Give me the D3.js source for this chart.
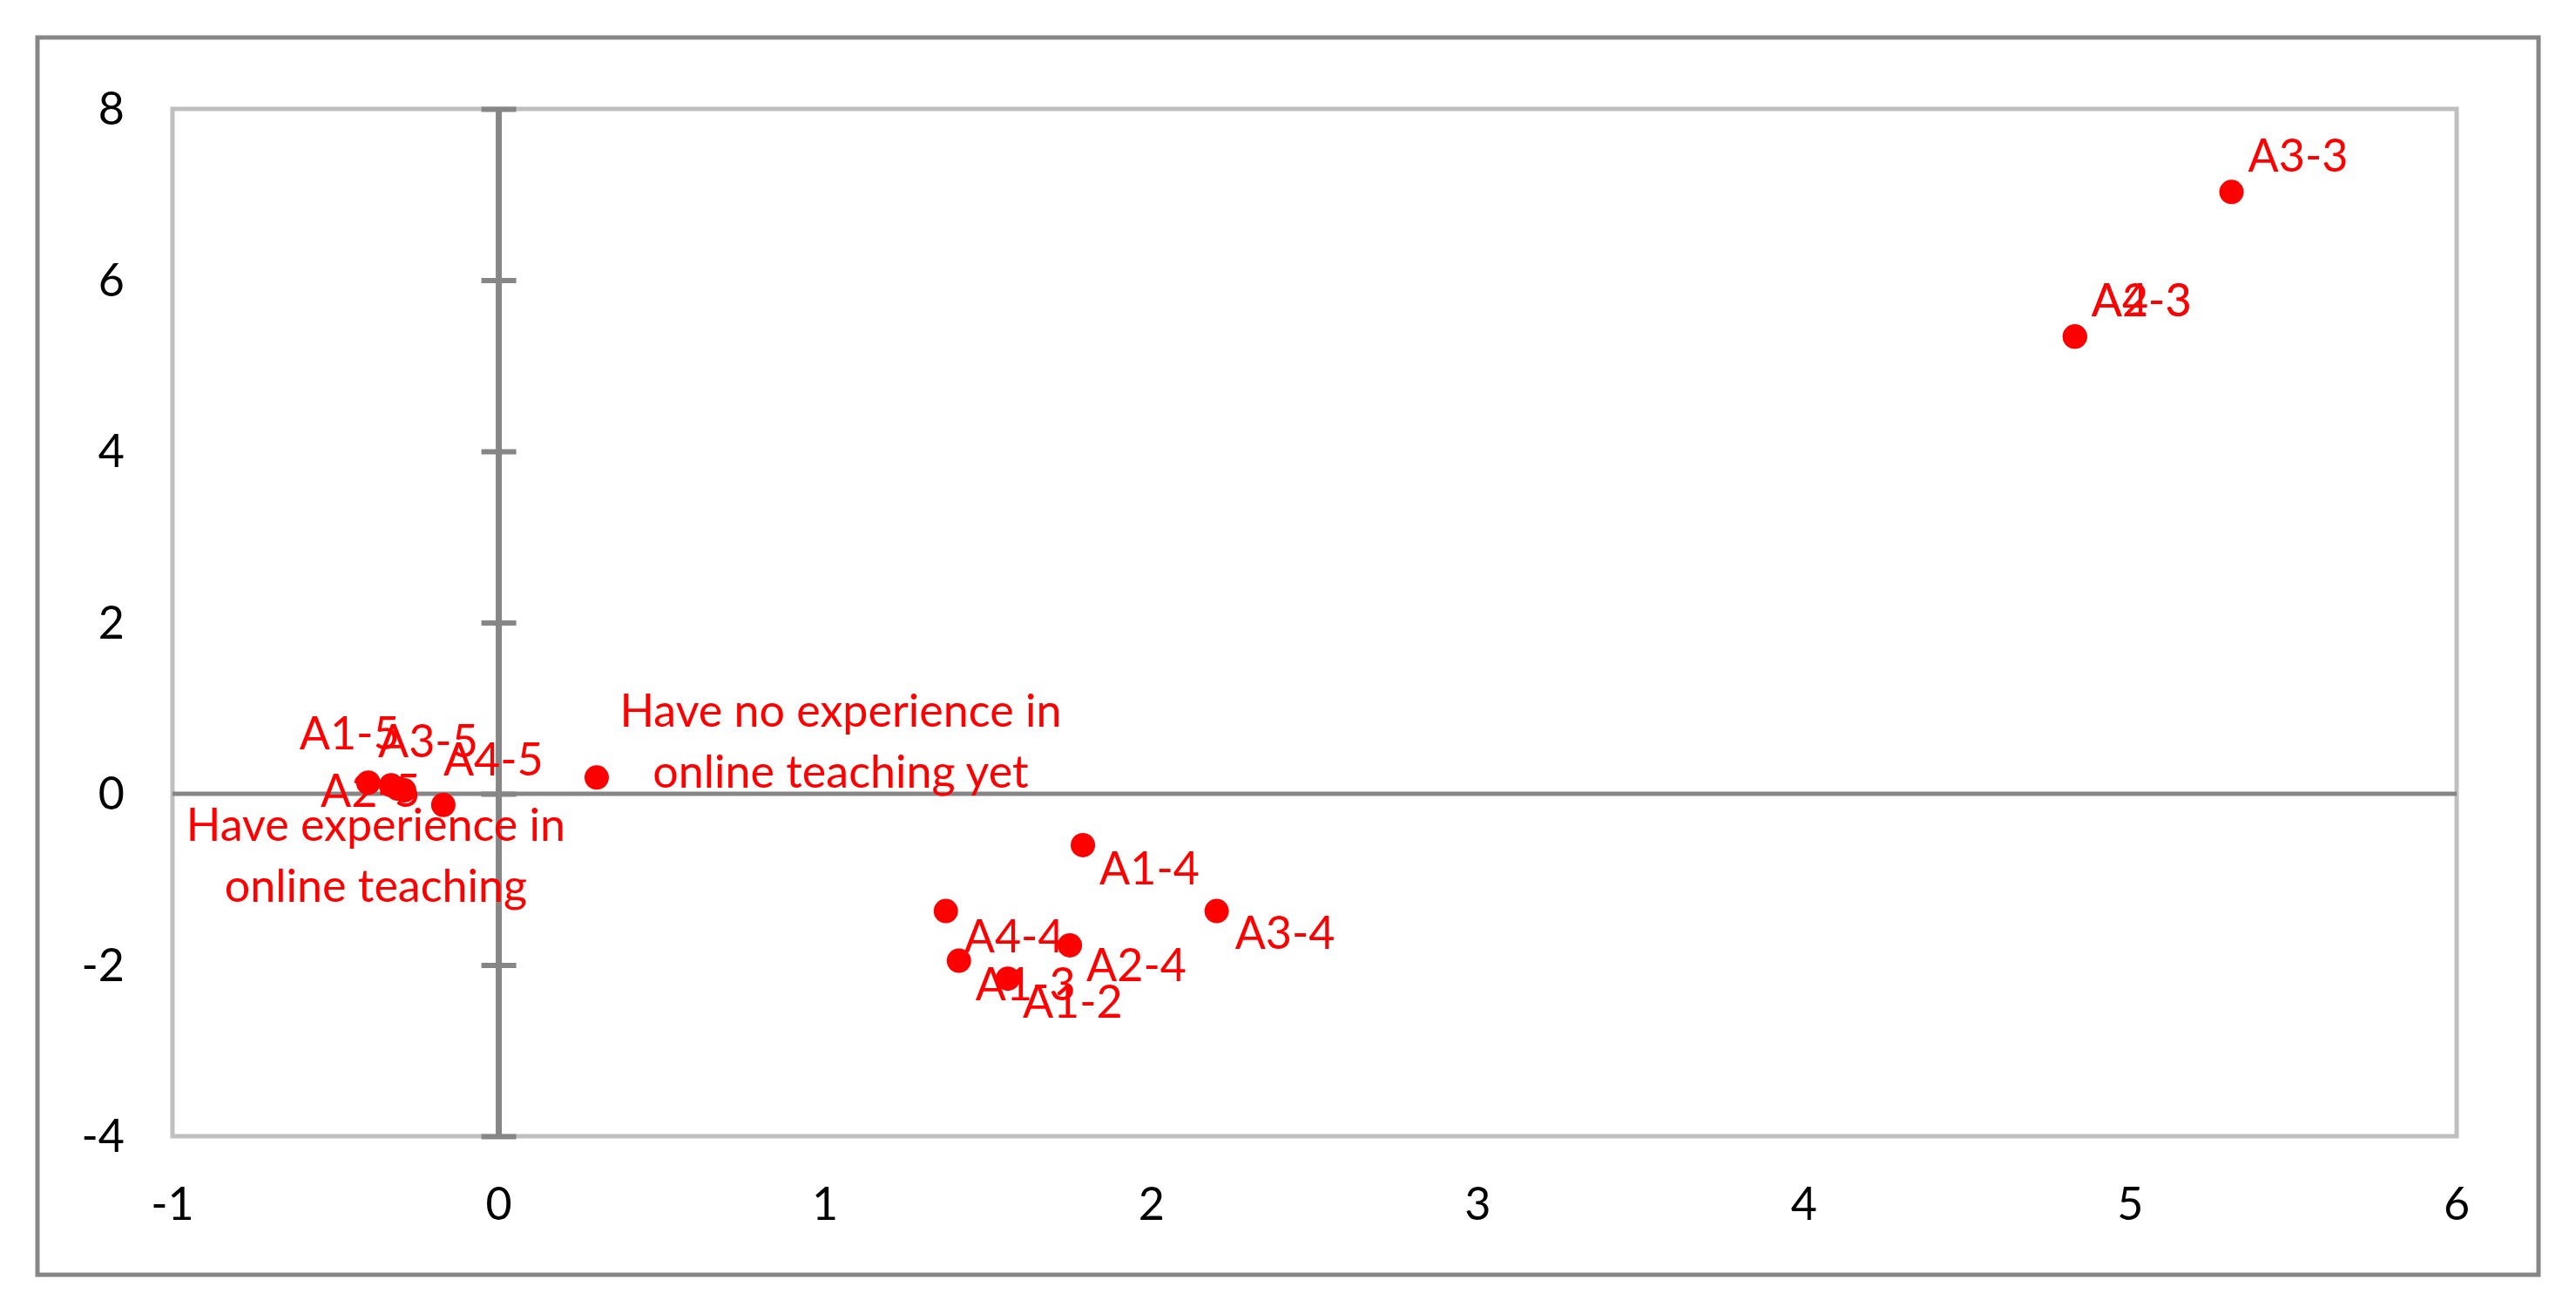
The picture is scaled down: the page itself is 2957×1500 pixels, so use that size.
<!DOCTYPE html>
<html><head><meta charset="utf-8">
<script src="https://cdn.jsdelivr.net/npm/d3@7"></script>
<style>body{margin:0;background:#fff}</style></head>
<body><svg id="c" width="2957" height="1500"></svg>
<script>
const labels = ["A3-3","A2-3","A4-3","Have no experience in\nonline teaching yet","A1-5","A3-5","A2-5","A4-5","Have experience in\nonline teaching","A1-4","A3-4","A4-4","A1-3","A1-2","A2-4"];
const xs = [5.31,4.83,4.83,0.30,-0.40,-0.33,-0.29,-0.17,-0.31,1.79,2.20,1.37,1.41,1.56,1.75];
const ys = [7.03,5.34,5.34,0.19,0.13,0.10,0.04,-0.13,0.06,-0.60,-1.37,-1.37,-1.95,-2.16,-1.77];
const xTicks = [-1,0,1,2,3,4,5,6];
const yTicks = [-4,-2,0,2,4,6,8];
// label offsets (px) and anchor
const ldx = [19,19,19,280,-79,-15,-96,0,-25,19,21,21,19,17,19];
const ldy = [-23,-23,-23,-58,-38,-32,19,-34,60,45,43,47,45,45,41];
const lanc = ["start","start","start","middle","start","start","start","start","middle","start","start","start","start","start","start"];

const svg = d3.select("#c");
const font = "Lato, 'Open Sans', sans-serif";
const x = d3.scaleLinear().domain([-1,6]).range([198,2820]);
const y = d3.scaleLinear().domain([-4,8]).range([1304,125]);

svg.append("rect").attr("x",43).attr("y",43).attr("width",2871).attr("height",1420)
  .attr("fill","none").attr("stroke","#868686").attr("stroke-width",5);
svg.append("rect").attr("x",x(-1)).attr("y",y(8)).attr("width",x(6)-x(-1)).attr("height",y(-4)-y(8))
  .attr("fill","none").attr("stroke","#bfbfbf").attr("stroke-width",5);

const ya = svg.append("g").attr("transform",`translate(${x(0)},0)`)
  .call(d3.axisLeft(y).tickValues(yTicks).tickSize(20).tickFormat(""));
ya.selectAll("line").attr("x2",20).attr("x1",-20).attr("stroke","#868686").attr("stroke-width",6);
ya.select(".domain").remove();
svg.append("line").attr("x1",x(0)).attr("x2",x(0)).attr("y1",y(8)).attr("y2",y(-4)).attr("stroke","#868686").attr("stroke-width",7);
svg.append("line").attr("x1",x(-1)).attr("x2",x(6)).attr("y1",y(0)).attr("y2",y(0)).attr("stroke","#868686").attr("stroke-width",5);

svg.append("g").selectAll("text").data(yTicks).join("text")
  .attr("x",143).attr("y",d=>y(d)+18).attr("text-anchor","end")
  .attr("font-family",font).attr("font-size",52).attr("fill","#000").text(d=>d);
svg.append("g").selectAll("text").data(xTicks).join("text")
  .attr("x",d=>x(d)).attr("y",1400).attr("text-anchor","middle")
  .attr("font-family",font).attr("font-size",52).attr("fill","#000").text(d=>d);

const idx = d3.range(labels.length);
svg.append("g").selectAll("circle").data(idx).join("circle")
  .attr("cx",i=>x(xs[i])).attr("cy",i=>y(ys[i])).attr("r",14).attr("fill","#ff0000");

const lg = svg.append("g");
idx.forEach(i=>{
  const lines = labels[i].split("\n");
  const t = lg.append("text").attr("font-family",font).attr("font-size",52).attr("fill","#ff0000")
    .attr("text-anchor",lanc[i]);
  lines.forEach((l,k)=>{
    t.append("tspan").attr("x",x(xs[i])+ldx[i]).attr("y",y(ys[i])+ldy[i]+k*70).text(l);
  });
});
</script></body></html>
